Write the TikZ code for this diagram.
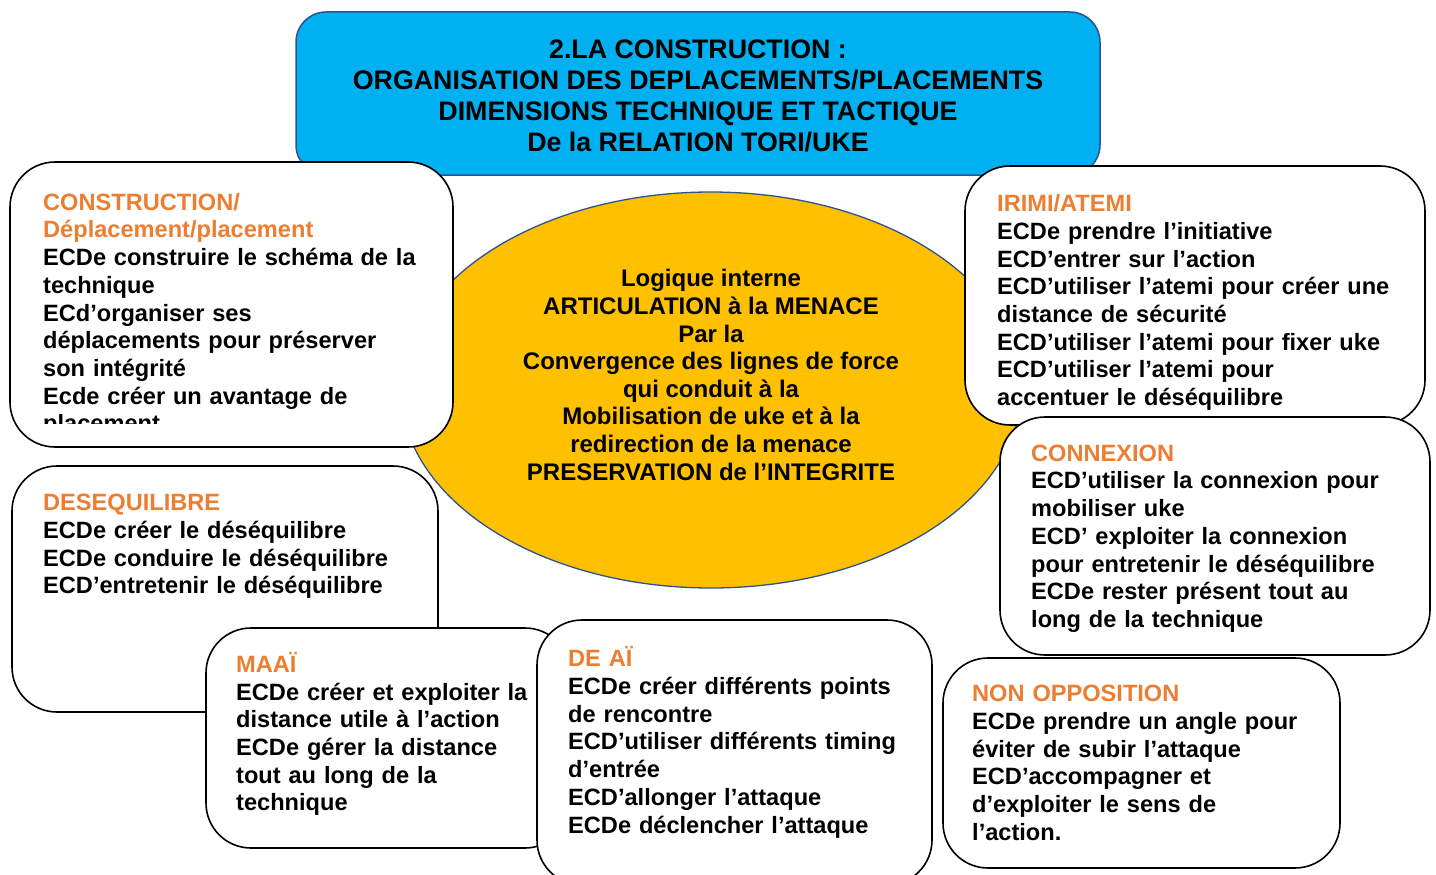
\documentclass[tikz,border=0pt]{standalone}
\usepackage{fontspec}
\setmainfont{Liberation Sans}
\usepackage{tikz}
\usetikzlibrary{shapes.geometric}

\definecolor{headorange}{HTML}{ED7D31}
\definecolor{titleblue}{HTML}{00B0F0}
\definecolor{edgeblue}{HTML}{2F528F}
\definecolor{coreyellow}{HTML}{FFC000}

\tikzset{
  card/.style={draw=black, line width=1.6pt, fill=white, rounded corners=45pt, inner sep=0pt},
  cardtext/.style={anchor = north west, inner sep=0pt, text width=440pt, align=left,
    font=\fontsize{23.6}{27.7}\selectfont\bfseries},
}
\newcommand{\hd}[1]{\textcolor{headorange}{\rule{0pt}{20pt}#1}}

\begin{document}
\begin{tikzpicture}[x=1pt, y=-1pt]
\useasboundingbox (0,0) rectangle (1436,875);

% titre
\node[draw=edgeblue, line width=1.5pt, fill=titleblue, rounded corners=30pt,
  minimum width=804pt, minimum height=163pt] (titre) at (698,93.5) {};
\node[align=center, inner sep=0pt, font=\fontsize{26.8}{31}\selectfont\bfseries] (titre-t) at (698,95.5)
  {2.LA CONSTRUCTION :\\ORGANISATION DES DEPLACEMENTS/PLACEMENTS\\DIMENSIONS TECHNIQUE ET TACTIQUE\\De la RELATION TORI/UKE};

% logique interne
\node[ellipse, draw=edgeblue, line width=1.3pt, fill=coreyellow, inner sep=0pt,
  minimum width=620pt, minimum height=396pt] (noyau) at (711,390) {};
\node[align=center, inner sep=0pt, font=\fontsize{24}{27.6}\selectfont\bfseries] (noyau-t) at (711,375)
  {Logique interne\\ARTICULATION à la MENACE\\Par la\\Convergence des lignes de force\\qui conduit à la\\Mobilisation de uke et à la\\redirection de la menace\\PRESERVATION de l’INTEGRITE};

% construction
\node[card, minimum width=443pt, minimum height=285pt] (constr) at (231.5,304.5) {};
\begin{scope}
\clip (11,163) rectangle (452,423);
\node[cardtext] (constr-t) at (43,190)
  {\hd{CONSTRUCTION/}\\\hd{Déplacement/placement}\\ECDe construire le schéma de la\\technique\\ECd’organiser ses\\déplacements pour préserver\\son intégrité\\Ecde créer un avantage de\\placement};
\end{scope}

% irimi
\node[card, minimum width=460pt, minimum height=259pt] (irimi) at (1195,295.5) {};
\node[cardtext] (irimi-t) at (997,191.5)
  {\hd{IRIMI/ATEMI}\\ECDe prendre l’initiative\\ECD’entrer sur l’action\\ECD’utiliser l’atemi pour créer une\\distance de sécurité\\ECD’utiliser l’atemi pour fixer uke\\ECD’utiliser l’atemi pour\\accentuer le déséquilibre};

% connexion
\node[card, minimum width=430pt, minimum height=238pt] (connex) at (1215,536) {};
\node[cardtext] (connex-t) at (1031,441)
  {\hd{CONNEXION}\\ECD’utiliser la connexion pour\\mobiliser uke\\ECD’ exploiter la connexion\\pour entretenir le déséquilibre\\ECDe rester présent tout au\\long de la technique};

% desequilibre
\node[card, minimum width=426pt, minimum height=246pt] (deseq) at (225,589) {};
\node[cardtext] (deseq-t) at (43,490.5)
  {\hd{DESEQUILIBRE}\\ECDe créer le déséquilibre\\ECDe conduire le déséquilibre\\ECD’entretenir le déséquilibre};

% maai
\node[card, minimum width=364pt, minimum height=220pt] (maai) at (388,738) {};
\node[cardtext] (maai-t) at (236,652)
  {\hd{MAAÏ}\\ECDe créer et exploiter la\\distance utile à l’action\\ECDe gérer la distance\\tout au long de la\\technique};

% de ai
\node[card, minimum width=395pt, minimum height=265pt] (deai) at (734.5,752.5) {};
\node[cardtext] (deai-t) at (568,646.5)
  {\hd{DE AÏ}\\ECDe créer différents points\\de rencontre\\ECD’utiliser différents timing\\d’entrée\\ECD’allonger l’attaque\\ECDe déclencher l’attaque};

% non opposition
\node[card, minimum width=397pt, minimum height=210pt] (nonopp) at (1141.5,763) {};
\node[cardtext] (nonopp-t) at (972,681.5)
  {\hd{NON OPPOSITION}\\ECDe prendre un angle pour\\éviter de subir l’attaque\\ECD’accompagner et\\d’exploiter le sens de\\l’action.};
\end{tikzpicture}
\end{document}
